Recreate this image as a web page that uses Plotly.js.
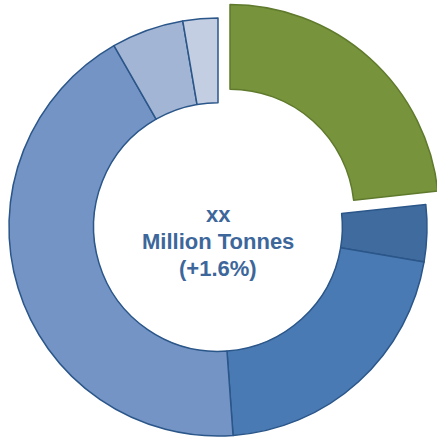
<!DOCTYPE html>
<html>
<head>
<meta charset="utf-8">
<script src="https://cdn.plot.ly/plotly-3.0.1.min.js"></script>
<style>
html,body{margin:0;padding:0;overflow:hidden;background:#fff;width:437px;height:438px;}
#chart{position:absolute;left:-9px;top:0px;width:454px;height:454px;}
</style>
</head>
<body>
<div id="chart"></div>
<script>
const categories = ["Segment 1", "Segment 2", "Segment 3", "Segment 4", "Segment 5", "Segment 6"];
const shares = [23.3, 4.4, 21.2, 42.9, 5.6, 2.7];
const pulls = [0.086, 0, 0, 0, 0, 0];
const sliceColors = ["#77933C", "#3F6B9F", "#4A7AB3", "#7394C5", "#A3B5D5", "#C3CEE3"];
const edgeColors = ["#5F7A2C", "#2B5689", "#2B5689", "#2B5689", "#2B5689", "#2B5689"];
const centerLines = ["xx", "Million Tonnes", "(+1.6%)"];
const centerY = [214, 241, 268];

const H = 454;
const annotations = centerLines.map((t, i) => ({
  text: "<b>" + t + "</b>", xref: "paper", yref: "paper", x: 0.5, y: 1 - centerY[i] / H,
  xanchor: "center", yanchor: "middle", showarrow: false,
  font: {family: "Liberation Sans, Arial, sans-serif", size: 22, color: "#3D679B"}
}));

Plotly.newPlot("chart", [{
  type: "pie",
  labels: categories,
  values: shares,
  hole: 0.595,
  sort: false,
  direction: "clockwise",
  rotation: 0,
  pull: pulls,
  textinfo: "none",
  hoverinfo: "none",
  marker: {colors: sliceColors, line: {color: edgeColors, width: 1.5}}
}], {
  width: 454, height: 454,
  margin: {l: 0, r: 0, t: 0, b: 0, pad: 0},
  showlegend: false,
  paper_bgcolor: "#fff",
  annotations: annotations
}, {displayModeBar: false, staticPlot: true});
</script>
</body>
</html>
